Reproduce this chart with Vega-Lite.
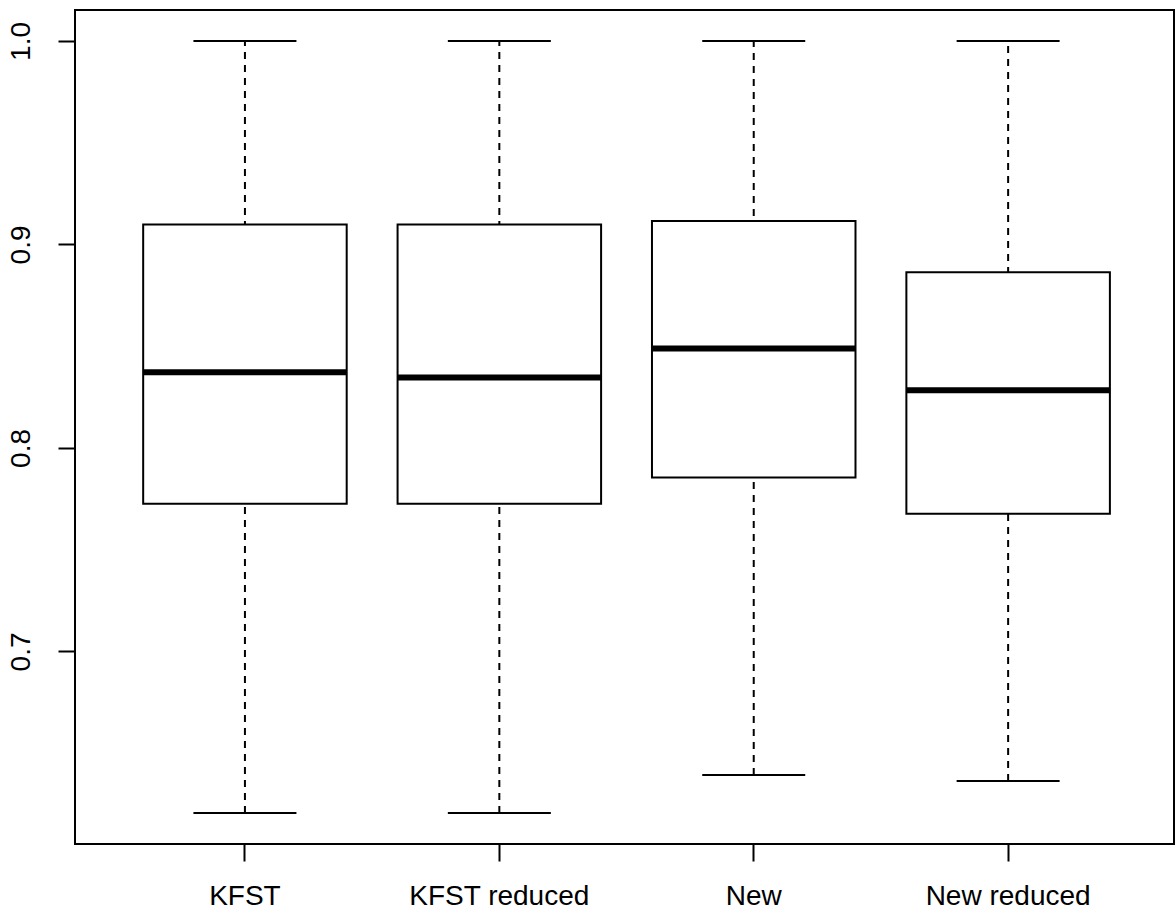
{
  "$schema": "https://vega.github.io/schema/vega-lite/v6.json",
  "width": 1099,
  "height": 834,
  "autosize": {"type": "none"},
  "padding": {"left": 75, "top": 10, "right": 2, "bottom": 69},
  "background": "white",
  "config": {
    "view": {"stroke": "black", "strokeWidth": 2},
    "font": "Liberation Sans",
    "axis": {
      "domain": false,
      "grid": false,
      "tickColor": "black",
      "tickWidth": 2,
      "tickSize": 17,
      "labelColor": "black",
      "labelFont": "Liberation Sans",
      "labelFontSize": 28,
      "labelLimit": 0,
      "title": null
    }
  },
  "data": {
    "values": [
      {"group": "KFST", "lower": 0.6206, "q1": 0.7726, "median": 0.8372, "q3": 0.9098, "upper": 1.0},
      {"group": "KFST reduced", "lower": 0.6206, "q1": 0.7726, "median": 0.8346, "q3": 0.9098, "upper": 1.0},
      {"group": "New", "lower": 0.6393, "q1": 0.7855, "median": 0.8489, "q3": 0.9115, "upper": 1.0},
      {"group": "New reduced", "lower": 0.6364, "q1": 0.7677, "median": 0.8283, "q3": 0.8864, "upper": 1.0}
    ]
  },
  "encoding": {
    "x": {
      "field": "group",
      "type": "nominal",
      "sort": null,
      "scale": {"paddingInner": 0, "paddingOuter": 0.16, "align": 0.525},
      "axis": {"labelAngle": 0, "labelBaseline": "top", "labelPadding": 21, "labelLimit": 0}
    }
  },
  "layer": [
    {
      "mark": {"type": "rule", "color": "black", "strokeWidth": 2, "strokeDash": [7, 6], "opacity": 1},
      "encoding": {
        "y": {
          "field": "lower",
          "type": "quantitative",
          "scale": {"domain": [0.6054, 1.0152], "nice": false, "zero": false},
          "axis": {"values": [0.7, 0.8, 0.9, 1.0], "format": ".1f", "labelAngle": 270, "labelAlign": "center", "labelBaseline": "bottom", "labelPadding": 23}
        },
        "y2": {"field": "upper"}
      }
    },
    {
      "mark": {"type": "tick", "color": "black", "size": 103, "thickness": 2, "orient": "horizontal", "opacity": 1},
      "encoding": {"y": {"field": "lower", "type": "quantitative"}}
    },
    {
      "mark": {"type": "tick", "color": "black", "size": 103, "thickness": 2, "orient": "horizontal", "opacity": 1},
      "encoding": {"y": {"field": "upper", "type": "quantitative"}}
    },
    {
      "mark": {"type": "bar", "fill": "white", "stroke": "black", "strokeWidth": 2, "width": {"band": 0.8}, "opacity": 1},
      "encoding": {
        "y": {"field": "q1", "type": "quantitative"},
        "y2": {"field": "q3"}
      }
    },
    {
      "mark": {"type": "tick", "color": "black", "size": 204, "thickness": 6, "orient": "horizontal", "opacity": 1},
      "encoding": {"y": {"field": "median", "type": "quantitative"}}
    }
  ]
}
